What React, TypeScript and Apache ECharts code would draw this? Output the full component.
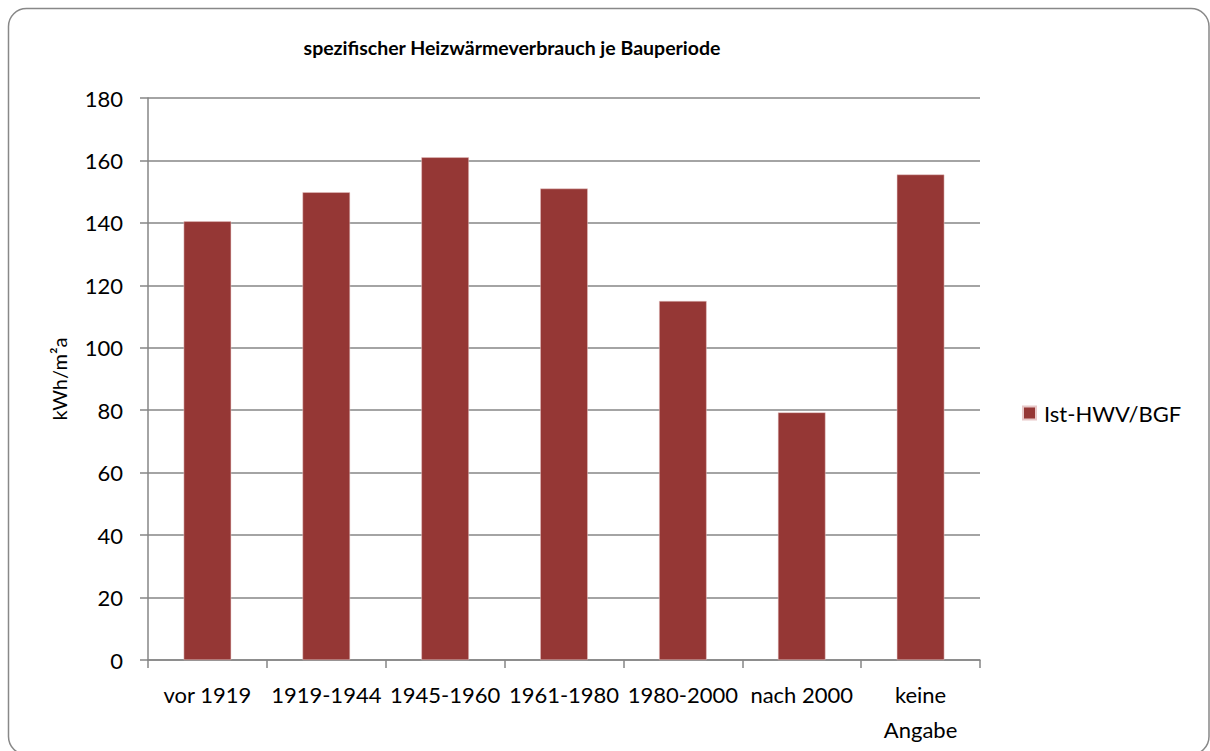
import React, { useEffect, useRef } from "react";
import * as echarts from "echarts";

const categories = ["vor 1919", "1919-1944", "1945-1960", "1961-1980", "1980-2000", "nach 2000", "keine\nAngabe"];
const values = [140.5, 149.8, 161.0, 151.0, 115.0, 79.3, 155.5];
const seriesName = "Ist-HWV/BGF";
const titleText = "spezifischer Heizwärmeverbrauch je Bauperiode";
const yAxisName = "kWh/m²a";

export default function App() {
  const ref = useRef<HTMLDivElement>(null);
  useEffect(() => {
    const chart = echarts.init(ref.current!, null, { renderer: "svg" });
    const font = "Lato, 'Open Sans', sans-serif";
    chart.setOption({
      animation: false,
      backgroundColor: "#ffffff",
      textStyle: { fontFamily: font },
      title: {
        text: titleText,
        left: 512,
        top: 37,
        padding: 0,
        textAlign: "center",
        textStyle: { fontSize: 19.5, fontWeight: "bold", color: "#000", fontFamily: font },
      },
      graphic: [
        {
          type: "rect",
          shape: { x: 8.5, y: 8.5, width: 1200.5, height: 746, r: 18 },
          style: { fill: "none", stroke: "#888888", lineWidth: 1.5 },
          silent: true,
          z: -1,
        },
      ],
      legend: {
        left: 1022,
        top: 402,
        padding: 0,
        orient: "vertical",
        itemWidth: 13,
        itemHeight: 13,
        itemGap: 6,
        icon: "rect",
        textStyle: { fontSize: 22, color: "#000", fontFamily: font, padding: [0, 0, 0, 3] },
        data: [seriesName],
      },
      grid: { left: 148, right: 230, top: 98, bottom: 91, containLabel: false },
      xAxis: {
        type: "category",
        data: categories,
        axisLine: { lineStyle: { color: "#868686", width: 1.5 } },
        axisTick: { show: true, length: 8, alignWithLabel: false, lineStyle: { color: "#868686", width: 1.5 } },
        axisLabel: { fontSize: 22, color: "#000", margin: 17, lineHeight: 35, interval: 0, fontFamily: font },
      },
      yAxis: {
        type: "value",
        min: 0,
        max: 180,
        interval: 20,
        name: yAxisName,
        nameLocation: "middle",
        nameGap: 79,
        nameRotate: 90,
        nameTextStyle: { fontSize: 20, color: "#000", fontFamily: font },
        axisLine: { show: true, lineStyle: { color: "#868686", width: 1.5 } },
        axisTick: { show: true, length: 8, inside: false, lineStyle: { color: "#868686", width: 1.5 } },
        axisLabel: { fontSize: 22, color: "#000", margin: 25, fontFamily: font },
        splitLine: { show: true, lineStyle: { color: "#868686", width: 1.5 } },
      },
      series: [
        {
          name: seriesName,
          type: "bar",
          data: values,
          barWidth: "40%",
          itemStyle: { color: "#953735", borderColor: "#e8c8c8", borderWidth: 0.5 },
        },
      ],
    });
    return () => chart.dispose();
  }, []);
  return (
    <div
      ref={ref}
      style={{ position: "absolute", left: 0, top: 0, width: 1210, height: 751 }}
    />
  );
}
